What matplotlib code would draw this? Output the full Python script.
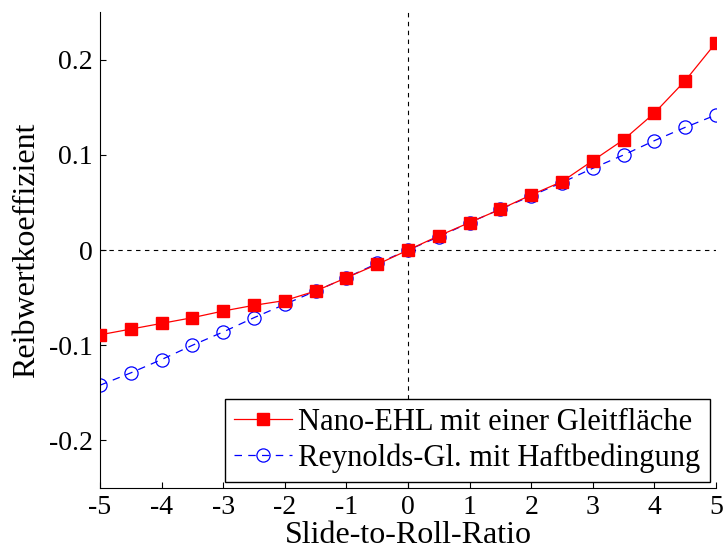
import numpy as np
import matplotlib.pyplot as plt

plt.rcParams['font.family'] = ['Liberation Serif', 'DejaVu Serif']

# slide-to-roll ratio
srr = [-5, -4.5, -4, -3.5, -3, -2.5, -2, -1.5, -1, -0.5, 0,
       0.5, 1, 1.5, 2, 2.5, 3, 3.5, 4, 4.5, 5]
# friction coefficient, Nano-EHL
mu_nano = [-0.089, -0.083, -0.077, -0.071, -0.064, -0.058, -0.053, -0.043, -0.029, -0.015, 0.0,
           0.015, 0.029, 0.043, 0.058, 0.072, 0.094, 0.116, 0.144, 0.178, 0.218]
# friction coefficient, Reynolds
mu_reyn = [-0.142, -0.129, -0.115, -0.100, -0.086, -0.071, -0.057, -0.043, -0.029, -0.014, 0.0,
           0.014, 0.029, 0.043, 0.057, 0.071, 0.086, 0.100, 0.115, 0.129, 0.142]

fig = plt.figure(figsize=(7.23, 5.52), dpi=100)
ax = fig.add_axes([0.1383, 0.1159, 0.852, 0.862])

ax.axvline(0, color='k', ls=(0, (4, 4)), lw=0.8, zorder=1)
ax.axhline(0, color='k', ls=(0, (4, 4)), lw=0.8, zorder=1)

ax.plot(srr, mu_nano, color='red', lw=0.9, marker='s', ms=9,
        label='Nano-EHL mit einer Gleitfläche', zorder=3)
ax.plot(srr, mu_reyn, color='blue', lw=0.9, ls=(0, (6, 5)), marker='o', ms=9.5,
        mfc='none', mew=0.9, label='Reynolds-Gl. mit Haftbedingung', zorder=2)

ax.set_xlim(-5, 5)
ax.set_ylim(-0.25, 0.25)
ax.set_xticks(range(-5, 6))
ax.set_yticks([-0.2, -0.1, 0, 0.1, 0.2])
ax.set_yticklabels(['-0.2', '-0.1', '0', '0.1', '0.2'])
ax.set_xticklabels([str(v) for v in range(-5, 6)])
ax.tick_params(direction='in', labelsize=20, length=4, pad=5)
ax.spines['top'].set_visible(False)
ax.spines['right'].set_visible(False)

ax.set_xlabel('Slide-to-Roll-Ratio', fontsize=23, labelpad=1)
ax.set_ylabel('Reibwertkoeffizient', fontsize=23, labelpad=6)

leg = ax.legend(loc='lower right', fontsize=22, fancybox=False, framealpha=1,
                edgecolor='k', borderaxespad=0.2, borderpad=0.3, labelspacing=0.2,
                handlelength=1.9, handletextpad=0.2)
leg.get_frame().set_linewidth(1.0)

fig.savefig('out.png', dpi=100)
